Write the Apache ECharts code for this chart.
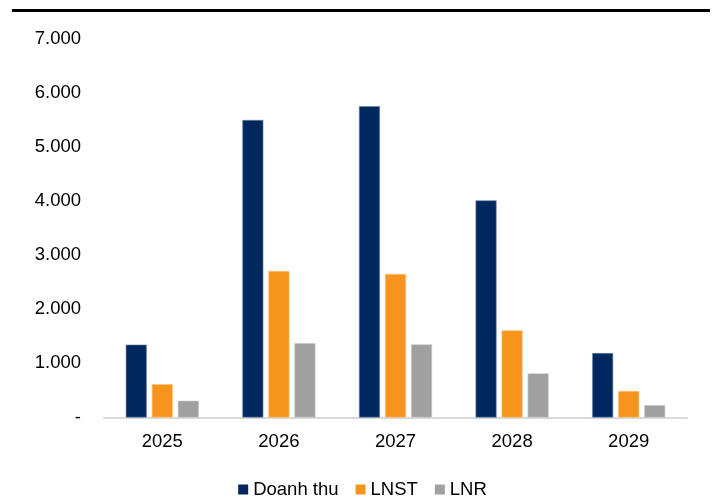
<!DOCTYPE html>
<html>
<head>
<meta charset="utf-8">
<script src="https://cdn.jsdelivr.net/npm/echarts@6/dist/echarts.min.js"></script>
<style>
  html, body { margin: 0; padding: 0; background: #ffffff; }
  #chart { width: 725px; height: 501px; }
</style>
</head>
<body>
<div id="chart"></div>
<script>
// Years on the category axis
const years = ['2025', '2026', '2027', '2028', '2029'];

// Series values (tỷ đồng)
const doanhThu = [1345, 5495, 5750, 4010, 1190];
const lnst = [615, 2705, 2650, 1610, 490];
const lnr = [310, 1370, 1350, 815, 228];

// Value-axis ticks
const yMin = 0;
const yMax = 7000;
const yStep = 1000;

const FONT = '"Liberation Sans", Arial, sans-serif';

// Vietnamese-style thousands separator; zero shows as a dash
function fmtTick(v) {
  if (v === 0) return '-';
  return String(v).replace(/\B(?=(\d{3})+(?!\d))/g, '.');
}

const chart = echarts.init(document.getElementById('chart'), null, { renderer: 'canvas' });

chart.setOption({
  backgroundColor: '#ffffff',
  animation: false,
  textStyle: { fontFamily: FONT },
  graphic: [
    {
      type: 'rect',
      shape: { x: 12, y: 9, width: 698, height: 3 },
      style: { fill: '#000000' },
      silent: true
    }
  ],
  legend: {
    left: 'center',
    top: 475,
    itemWidth: 10,
    itemHeight: 10,
    itemGap: 17,
    icon: 'rect',
    itemStyle: { borderWidth: 0 },
    textStyle: { fontFamily: FONT, fontSize: 18.5, color: '#000000' },
    data: ['Doanh thu', 'LNST', 'LNR']
  },
  grid: {
    left: 104,
    right: 38,
    top: 38.5,
    bottom: 83.5,
    containLabel: false
  },
  xAxis: {
    type: 'category',
    data: years,
    axisLine: { show: true, lineStyle: { color: '#d9d9d9', width: 2 } },
    axisTick: { show: false },
    axisLabel: { fontFamily: FONT, fontSize: 18.5, color: '#000000', margin: 15 }
  },
  yAxis: {
    type: 'value',
    min: yMin,
    max: yMax,
    interval: yStep,
    axisLine: { show: false },
    axisTick: { show: false },
    splitLine: { show: false },
    axisLabel: {
      fontFamily: FONT,
      fontSize: 18.5,
      color: '#000000',
      margin: 23,
      formatter: fmtTick
    }
  },
  series: [
    {
      name: 'Doanh thu',
      type: 'bar',
      data: doanhThu,
      barWidth: 21,
      barGap: '24%',
      itemStyle: { color: '#00285e', borderColor: '#6f86a8', borderWidth: 0.6 }
    },
    {
      name: 'LNST',
      type: 'bar',
      data: lnst,
      barWidth: 21,
      barGap: '24%',
      itemStyle: { color: '#f7941d', borderColor: '#fbc27e', borderWidth: 0.6 }
    },
    {
      name: 'LNR',
      type: 'bar',
      data: lnr,
      barWidth: 21,
      barGap: '24%',
      itemStyle: { color: '#a0a0a0', borderColor: '#c8c8c8', borderWidth: 0.6 }
    }
  ]
});
</script>
</body>
</html>
